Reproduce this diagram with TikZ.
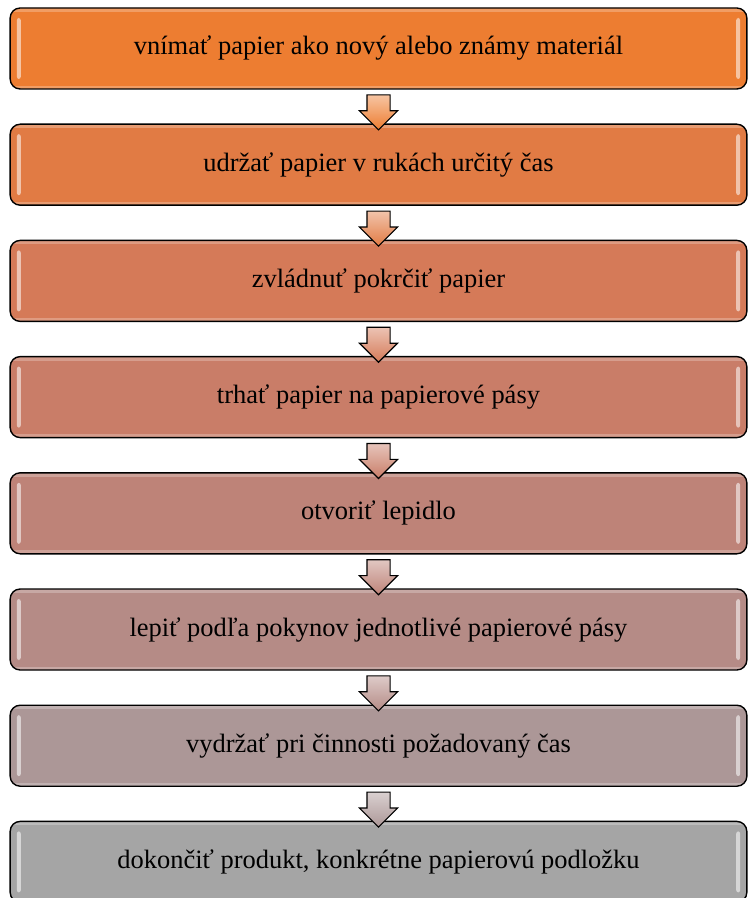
\documentclass[tikz,border=0pt]{standalone}
\usepackage{fontspec}
\setmainfont{Liberation Serif}
\usetikzlibrary{shapes.arrows, calc}

\definecolor{stepA}{RGB}{237,125,49}
\definecolor{stepB}{RGB}{225,123,68}
\definecolor{stepC}{RGB}{213,122,88}
\definecolor{stepD}{RGB}{201,125,104}
\definecolor{stepE}{RGB}{190,131,120}
\definecolor{stepF}{RGB}{181,139,134}
\definecolor{stepG}{RGB}{172,151,151}
\definecolor{stepH}{RGB}{165,165,165}

\begin{document}
\begin{tikzpicture}[
            box/.style={draw=black, line width=1.2pt, rounded corners=0.3cm, fill=#1, minimum width=22.1cm, minimum height=2.43cm, align=center, font=\fontsize{22.6}{27}\selectfont,
                path picture={
                    \fill[white, opacity=0.55, rounded corners=2pt] ([xshift=0.2cm, yshift=-0.3cm]path picture bounding box.north west) rectangle ([xshift=0.32cm, yshift=0.3cm]path picture bounding box.south west);
                    \fill[white, opacity=0.55, rounded corners=2pt] ([xshift=-0.2cm, yshift=-0.3cm]path picture bounding box.north east) rectangle ([xshift=-0.32cm, yshift=0.3cm]path picture bounding box.south east);
                    \fill[white, opacity=0.25, sharp corners] (path picture bounding box.north west) rectangle ([yshift=-0.12cm]path picture bounding box.north east);
                    \fill[white, opacity=0.25, sharp corners] (path picture bounding box.south west) rectangle ([yshift=0.1cm]path picture bounding box.south east);
                }},
            down/.style={single arrow, draw=black, line width=1pt, shape border rotate=270, minimum height=1.05cm, inner sep=0.33cm, single arrow head extend=0.225cm, single arrow head indent=0pt, top color=#1!45!white, bottom color=#1}]

            \clip (0,0) rectangle (22.47,-26.94);

            \node[box=stepA] (see) at (11.355,-1.455) {vnímať papier ako nový alebo známy materiál};
            \node[box=stepB] (hold) at (11.355,-4.941) {udržať papier v rukách určitý čas};
            \node[box=stepC] (crumple) at (11.355,-8.427) {zvládnuť pokrčiť papier};
            \node[box=stepD] (tear) at (11.355,-11.913) {trhať papier na papierové pásy};
            \node[box=stepE] (glue) at (11.355,-15.399) {otvoriť lepidlo};
            \node[box=stepF] (stick) at (11.355,-18.885) {lepiť podľa pokynov jednotlivé papierové pásy};
            \node[box=stepG] (endure) at (11.355,-22.371) {vydržať pri činnosti požadovaný čas};
            \node[box=stepH] (finish) at (11.355,-25.857) {dokončiť produkt, konkrétne papierovú podložku};

            \node[down=stepA] (a1) at ($(see.south)!0.5!(hold.north)$) {};
            \node[down=stepB] (a2) at ($(hold.south)!0.5!(crumple.north)$) {};
            \node[down=stepC] (a3) at ($(crumple.south)!0.5!(tear.north)$) {};
            \node[down=stepD] (a4) at ($(tear.south)!0.5!(glue.north)$) {};
            \node[down=stepE] (a5) at ($(glue.south)!0.5!(stick.north)$) {};
            \node[down=stepF] (a6) at ($(stick.south)!0.5!(endure.north)$) {};
            \node[down=stepG] (a7) at ($(endure.south)!0.5!(finish.north)$) {};
        \end{tikzpicture}
\end{document}
